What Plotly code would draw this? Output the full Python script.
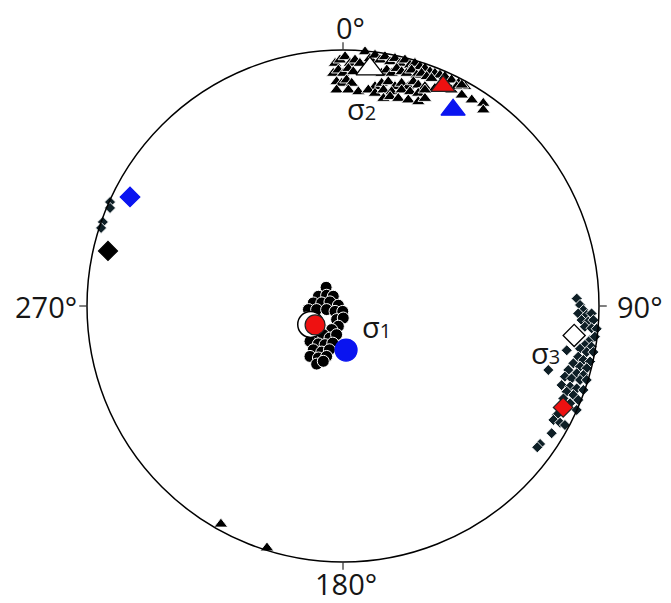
import numpy as np
import plotly.graph_objects as go

# Projected positions on the net, in percent of the primitive-circle radius
# (east, north)
s2_east = [-3.1, -1.2, 0.8, 2.7, 4.7, 6.6, 8.6, 10.5, 12.5, 14.5, 16.4, 18.4, 20.3, 22.3, 24.2,
           26.2, 28.1, 30.1, 32.0, 34.0, 35.9, 37.9, 39.8, 42.4, 45.1, 47.7,
           -3.8, -1.8, 0.1, 2.1, 4.0, 15.1, 17.1, 19.0, 21.0, 22.9, 24.9, 26.8, 28.8, 30.7, 32.7,
           34.6, 42.4, 44.4, 46.4,
           -2.5, -0.5, 1.4, 3.4, 12.5, 15.1, 17.7, 20.3, 22.9, 25.5, 27.5, 29.4, 32.0, 35.9, 46.4,
           -2.5, 2.1, 6.0, 9.9, 12.5, 15.8, 19.0, 22.9, 26.2, 29.4, 32.0,
           15.8, 18.4, 21.6, 25.5, 29.4, 32.0, 50.3, 54.8, 54.8,
           -47.7, -29.7]
s2_north = [94.8, 96.1, 97.4, 94.8, 96.1, 94.8, 99.3, 96.7, 98.0, 96.1, 97.4, 95.4, 96.7, 94.8, 96.1,
            94.1, 94.8, 93.5, 92.8, 91.5, 90.9, 90.2, 89.6, 88.3, 87.0, 85.7,
            90.9, 92.2, 90.9, 92.8, 91.5, 90.9, 92.2, 90.9, 92.8, 91.5, 90.9, 92.2, 90.2, 90.9, 89.6,
            88.9, 84.4, 85.7, 86.3,
            87.6, 87.0, 88.3, 87.0, 85.7, 87.0, 87.6, 85.7, 87.0, 85.7, 87.6, 86.3, 85.7, 85.0, 82.4,
            84.4, 84.4, 83.7, 84.4, 83.1, 84.4, 83.7, 84.4, 83.7, 83.1, 84.4,
            81.1, 81.8, 81.1, 80.5, 79.8, 81.1, 80.5, 79.2, 76.6,
            -85.2, -94.5]

s1_east = [-6.6, -9.6, -6.4, -3.8, -11.6, -8.3, -5.1, -1.8, -13.5, -10.3, -6.4, -3.1, -0.1,
           -14.2, -2.5, 0.1, -1.8, -4.4, -12.9, -10.3, -7.7, -5.1, -2.5, -12.9, -9.6, -7.0,
           -4.0, -11.6, -8.3, -5.3, -12.9, -9.6, -6.4, -10.3, -7.7]
s1_north = [7.3, 3.8, 4.2, 3.8, 1.2, 1.2, 1.6, 0.3, -1.4, -1.4, -1.4, -2.1, -2.1,
            -4.7, -5.3, -4.7, -7.9, -9.2, -10.5, -11.8, -11.2, -12.5, -11.2, -13.8, -14.8, -15.1,
            -14.5, -17.1, -18.0, -17.1, -19.7, -20.3, -19.7, -22.7, -21.6]

s3_east = [91.3, 92.6, 93.9, 91.9, 95.2, 97.1, 93.2, 95.8, 97.8, 94.5, 97.1, 99.1, 96.5, 98.4,
           94.5, 97.1, 92.6, 95.2, 97.8, 91.9, 93.9, 96.5, 90.0, 92.6, 95.2, 88.0, 91.3, 93.9,
           86.7, 89.3, 92.6, 95.2, 85.4, 88.7, 91.3, 93.9, 87.4, 90.0, 86.1, 91.9, 88.7, 91.3,
           83.5, 82.2, 84.8, 86.7, 81.5, 77.0, 75.9, 80.2, 87.4,
           -91.0, -91.0, -93.8, -94.5]
s3_north = [2.9, 0.4, -1.6, -2.9, -3.5, -2.9, -5.5, -6.1, -5.5, -8.1, -8.7, -8.9, -13.3, -12.0,
            -15.2, -15.9, -16.7, -18.0, -18.0, -19.8, -21.1, -21.7, -22.4, -23.7, -24.3, -25.0,
            -26.3, -27.0, -27.6, -28.3, -28.9, -28.9, -30.9, -31.5, -32.2, -32.8, -33.5, -34.8,
            -36.1, -36.7, -38.0, -40.6, -42.6, -44.5, -45.6, -46.5, -49.7, -53.9, -55.2, -25.0,
            -17.3,
            40.6, 38.3, 32.8, 30.5]

# Mean / solution axes: white, red, blue, black
sig1_east = {"white": -12.6, "red": -10.9, "blue": 1.2}
sig1_north = {"white": -7.2, "red": -7.4, "blue": -17.2}
sig2_east = {"white": 10.5, "red": 39.1, "blue": 43.0}
sig2_north = {"white": 92.6, "red": 85.9, "blue": 76.6}
sig3_east = {"white": 90.3, "red": 86.0, "blue": -83.2, "black": -91.8}
sig3_north = {"white": -11.5, "red": -39.6, "blue": 42.6, "black": 21.5}

tick_vals = [0, 90, 180, 270]
tick_text = ["0°", "90°", "180°", "270°"]

FILL = {"white": "#ffffff", "red": "#ee1111", "blue": "#0a14f0", "black": "#000000"}
EDGE = {"white": "#000000", "red": "#222222", "blue": "#0a14f0", "black": "#000000"}

# the page body adds an 8 px offset; lay out in window pixels and subtract it
OFF = 8
W, H = 671, 603


def px_x(x):
    return (x - OFF) / W


def px_y(y):
    return 1 - (y - OFF) / H


def to_polar(east, north):
    e = np.asarray(east, float)
    n = np.asarray(north, float)
    theta = np.degrees(np.arctan2(e, n)) % 360
    r = np.hypot(e, n)
    return theta, r


fig = go.Figure()


def add(east, north, symbol, size, color, line_color, line_width):
    th, r = to_polar(east, north)
    fig.add_trace(go.Scatterpolar(
        theta=th, r=r, mode="markers",
        marker=dict(symbol=symbol, size=size, color=color,
                    line=dict(color=line_color, width=line_width)),
        hoverinfo="skip", showlegend=False))


add(s2_east, s2_north, "triangle-up", 12, "#000000", "#ffffff", 0.9)
add(s3_east, s3_north, "diamond", 8.5, "#0e1f26", "#ffffff", 0.9)
add(s1_east, s1_north, "circle", 12, "#000000", "#ffffff", 1)

# confidence ring around sigma1 mean
add([sig1_east["white"]], [sig1_north["white"]], "circle", 26, "#ffffff", "#000000", 1.5)
for k in ["red", "blue"]:
    add([sig1_east[k]], [sig1_north[k]], "circle", 20 if k == "red" else 22,
        FILL[k], EDGE[k], 1.2)
for k, sz in [("white", 24), ("red", 21), ("blue", 21)]:
    add([sig2_east[k]], [sig2_north[k]], "triangle-up", sz, FILL[k], EDGE[k], 1.3)
for k, sz in [("white", 17), ("red", 15), ("blue", 15), ("black", 14.5)]:
    add([sig3_east[k]], [sig3_north[k]], "diamond", sz, FILL[k], EDGE[k], 1.3)

FONT = "Open Sans, Lato, DejaVu Sans, sans-serif"
TXT = "#161616"


def sigma(i):
    return "σ<span style='font-size:20px'>%d</span>" % i


# cardinal labels placed next to the ticks
label_pos = [(350, 28, "center"), (615, 306, "left"), (346, 583, "center"), (79, 306, "right")]
annotations = []
for txt, (x, y, anchor) in zip(tick_text, label_pos):
    annotations.append(dict(x=px_x(x), y=px_y(y), xref="paper", yref="paper", showarrow=False,
                            xanchor=anchor, yanchor="middle", text=txt,
                            font=dict(family=FONT, size=29, color=TXT)))
for i, (x, y) in zip([2, 1, 3], [(361, 108), (376, 326), (545, 353)]):
    annotations.append(dict(x=px_x(x), y=px_y(y), xref="paper", yref="paper", showarrow=False,
                            xanchor="center", yanchor="middle", text=sigma(i),
                            font=dict(family=FONT, size=29, color=TXT)))

fig.update_layout(
    width=W, height=H,
    margin=dict(l=0, r=0, t=0, b=0),
    paper_bgcolor="white",
    polar=dict(
        domain=dict(x=[px_x(87), px_x(599)], y=[px_y(562), px_y(50)]),
        bgcolor="white",
        radialaxis=dict(visible=False, range=[0, 100]),
        angularaxis=dict(
            direction="clockwise", rotation=90,
            tickmode="array", tickvals=tick_vals, ticktext=tick_text,
            showticklabels=False,
            ticks="outside", ticklen=7, tickwidth=1.2, tickcolor="#000000",
            showgrid=False, showline=True, linecolor="#000000", linewidth=1.5,
        ),
    ),
    annotations=annotations,
)

fig.write_html("out.html")
